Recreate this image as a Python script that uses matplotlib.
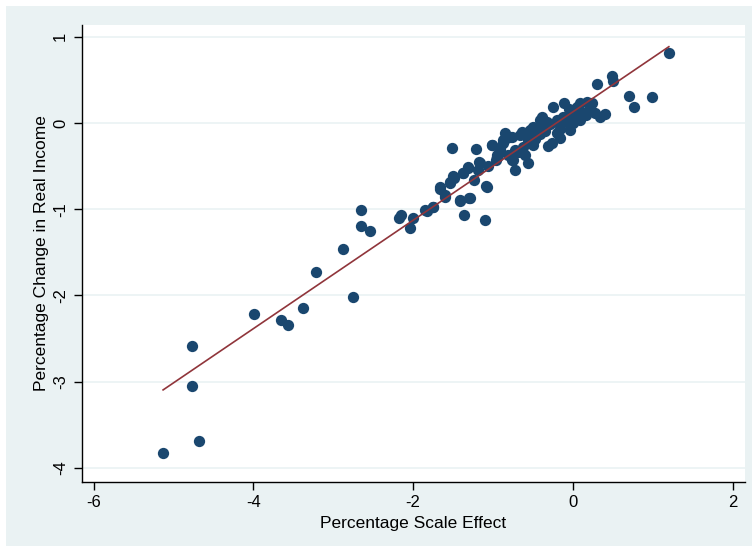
import numpy as np
import matplotlib
matplotlib.use("Agg")
import matplotlib.pyplot as plt
from matplotlib.patches import Rectangle

plt.rcParams['font.family'] = ['Liberation Sans', 'DejaVu Sans']
plt.rcParams['axes.unicode_minus'] = False

# ===============================
# DATA
# ===============================
scale_effect = [
    -5.13, -4.77, -4.77, -4.68, -3.99, -3.65, -3.57, -3.38, -3.22, -2.88,
    -2.75, -2.65, -2.65, -2.54, -2.18, -2.15, -2.04, -2.00, -1.83, -1.75,
    -1.66, -1.60, -1.51, -1.54, -1.49, -1.41, -1.36, -1.38, -1.29, -1.31,
    -1.24, -1.21, -1.18, -1.10, -1.09, -1.06, -1.01, -0.96, -0.91, -0.88,
    -0.81, -0.79, -0.76,
    -1.01, -0.95, -0.88, -0.76, -0.75, -0.63, -0.50, -0.50, -0.44, -0.35,
    -0.20, -0.08, -0.16, -1.16, -0.95, -1.19, -1.31, -1.38, -1.50, -1.54,
    -1.66, -1.60, -1.41, -1.30, -1.08, -1.85, -1.75, -0.95, -0.54, -0.39,
    -0.33, -0.85, -0.11, 0.05, -0.25, 0.03, 0.09, 0.18, 0.24, 0.13,
    0.01, -0.05, 0.19, 0.27, 0.16, 0.05, -0.04, -0.12, -0.20, -0.41,
    0.09, 0.00, 0.30, 0.49, 0.50, 0.70, 0.76, 0.99, 1.20,
    -0.69, -0.60, -0.56, -0.48, -0.41, -0.31, -0.26, -0.16, -0.66, -0.73,
    -0.64, -0.35, -0.29, -0.16, -0.04, 0.34, 0.40, -0.73, -0.85, -0.56,
    -0.48, -0.91, -0.64,
]
real_income = [
    -3.83, -2.59, -3.05, -3.69, -2.22, -2.29, -2.34, -2.15, -1.73, -1.46,
    -2.02, -1.01, -1.19, -1.25, -1.10, -1.07, -1.22, -1.10, -1.02, -0.97,
    -0.74, -0.84, -0.29, -0.70, -0.64, -0.89, -1.07, -0.58, -0.87, -0.52,
    -0.66, -0.30, -0.45, -1.13, -0.73, -0.50, -0.26, -0.43, -0.29, -0.20,
    -0.37, -0.16, -0.43,
    -0.26, -0.37, -0.23, -0.16, -0.43, -0.28, -0.05, -0.26, -0.08, -0.06,
    -0.12, 0.01, -0.02, -0.46, -0.40, -0.54, -0.51, -0.58, -0.61, -0.69,
    -0.76, -0.86, -0.91, -0.87, -0.74, -1.01, -0.97, -0.40, -0.08, 0.07,
    0.01, -0.12, 0.23, 0.19, 0.19, 0.03, 0.23, 0.24, 0.23, 0.12,
    0.12, 0.16, 0.14, 0.12, 0.09, 0.12, 0.07, 0.07, 0.03, 0.03,
    0.03, 0.00, 0.45, 0.55, 0.49, 0.31, 0.19, 0.30, 0.81,
    -0.34, -0.37, -0.20, -0.18, -0.13, -0.27, -0.23, -0.07, -0.14, -0.31,
    -0.34, -0.09, -0.01, -0.17, -0.08, 0.07, 0.10, -0.54, -0.19, -0.46,
    -0.17, -0.31, -0.11,
]

x_ticks = [-6, -4, -2, 0, 2]
y_ticks = [-4, -3, -2, -1, 0, 1]

MARKER = "#1a476f"
FIT = "#90353b"
BG = "#eaf2f3"

# ===============================
# PLOT
# ===============================
fig = plt.figure(figsize=(7.52, 5.52), dpi=100, facecolor="white")
fig.patches.append(Rectangle((6 / 752, 6 / 552), 746 / 752, 540 / 552,
                             transform=fig.transFigure, facecolor=BG,
                             edgecolor="none", zorder=-10))

ax = fig.add_axes([82 / 752, 70 / 552, 663 / 752, 457 / 552])
ax.set_facecolor("white")

x = np.array(scale_effect)
y = np.array(real_income)
ax.scatter(x, y, s=66, color=MARKER, linewidths=0, zorder=3)

# linear fit
b, a = np.polyfit(x, y, 1)
xs = np.array([x.min(), x.max()])
ax.plot(xs, a + b * xs, color=FIT, lw=1.2, zorder=4)

ax.set_xlim(-6.145, 2.153)
ax.set_ylim(-4.165, 1.137)
ax.set_xticks(x_ticks)
ax.set_yticks(y_ticks)
ax.grid(axis="y", color=BG, lw=1.2, zorder=0)
ax.set_axisbelow(True)

for side in ["top", "right"]:
    ax.spines[side].set_visible(False)
for side in ["left", "bottom"]:
    ax.spines[side].set_linewidth(1.0)
    ax.spines[side].set_color("black")

ax.tick_params(axis="both", direction="out", length=6, width=1.0,
               labelsize=12, colors="black")
ax.tick_params(axis="y", labelrotation=90, pad=4)
for lab in ax.get_yticklabels():
    lab.set_va("center")

ax.set_xlabel("Percentage Scale Effect", fontsize=12.5, labelpad=4)
ax.set_ylabel("Percentage Change in Real Income", fontsize=12.5, labelpad=3)

fig.savefig("out.png", dpi=100, facecolor=fig.get_facecolor())
